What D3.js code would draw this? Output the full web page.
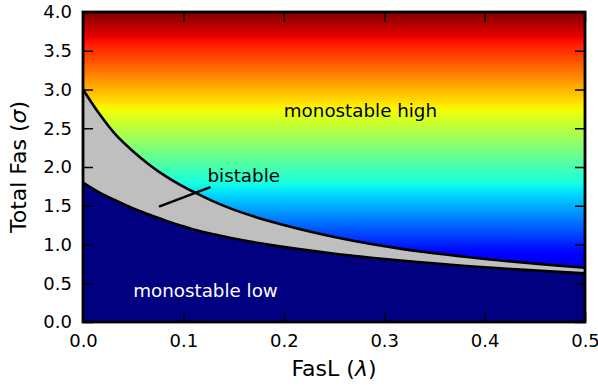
<!DOCTYPE html>
<html>
<head>
<meta charset="utf-8">
<script src="https://cdn.jsdelivr.net/npm/d3@7"></script>
<style>
html,body{margin:0;padding:0;background:#fff;}
text{font-family:"DejaVu Sans",sans-serif;}
</style>
</head>
<body>
<svg id="chart" width="598" height="386"></svg>
<script>
// ---- data ----
const lambdaVals = [0, 0.0166, 0.033, 0.05, 0.066, 0.083, 0.1, 0.11, 0.131, 0.15, 0.186, 0.2527, 0.319, 0.385, 0.44, 0.5];
const upperSigma = [3.0, 2.68, 2.41, 2.20, 2.03, 1.875, 1.746, 1.68, 1.55, 1.45, 1.30, 1.09, 0.94, 0.835, 0.765, 0.70];
const lowerSigma = [1.80, 1.67, 1.565, 1.465, 1.385, 1.305, 1.235, 1.195, 1.13, 1.077, 0.995, 0.878, 0.79, 0.72, 0.672, 0.628];
const xTicks = [0.0, 0.1, 0.2, 0.3, 0.4, 0.5];
const yTicks = [0.0, 0.5, 1.0, 1.5, 2.0, 2.5, 3.0, 3.5, 4.0];
const colorDomain = [0.45, 4.0];
const bistablePointer = [[0.0757, 1.49], [0.127, 1.74]];
const labels = [
  {text: "monostable high", x: 0.2, y: 2.65, color: "#000"},
  {text: "monostable low", x: 0.05, y: 0.32, color: "#fff"},
  {text: "bistable", x: 0.124, y: 1.81, color: "#000"}
];

// jet colormap (matplotlib segment data)
const jetSeg = {
  r: [[0,0],[0.35,0],[0.66,1],[0.89,1],[1,0.5]],
  g: [[0,0],[0.125,0],[0.375,1],[0.64,1],[0.91,0],[1,0]],
  b: [[0,0.5],[0.11,1],[0.34,1],[0.65,0],[1,0]]
};
function seg(s, v){
  v = Math.max(0, Math.min(1, v));
  for (let i = 1; i < s.length; i++){
    if (v <= s[i][0]){
      const t = (v - s[i-1][0]) / (s[i][0] - s[i-1][0]);
      return s[i-1][1] + t * (s[i][1] - s[i-1][1]);
    }
  }
  return s[s.length-1][1];
}
function jet(v){
  return d3.rgb(255*seg(jetSeg.r,v), 255*seg(jetSeg.g,v), 255*seg(jetSeg.b,v)).formatHex();
}

const W = 598, H = 386;
const m = {left: 83, top: 12, right: 13, bottom: 64};
const iw = W - m.left - m.right, ih = H - m.top - m.bottom;

const svg = d3.select("#chart");
const g = svg.append("g").attr("transform", `translate(${m.left},${m.top})`);

const x = d3.scaleLinear().domain([0, 0.5]).range([0, iw]);
const y = d3.scaleLinear().domain([0, 4]).range([ih, 0]);
const color = d3.scaleSequential(jet).domain(colorDomain);

// gradient
const defs = svg.append("defs");
const grad = defs.append("linearGradient").attr("id", "jetgrad")
  .attr("gradientUnits", "userSpaceOnUse")
  .attr("x1", 0).attr("x2", 0).attr("y1", y(colorDomain[0])).attr("y2", y(colorDomain[1]));
d3.range(0, 1.0001, 0.01).forEach(t => {
  const s = colorDomain[0] + t * (colorDomain[1] - colorDomain[0]);
  grad.append("stop").attr("offset", t).attr("stop-color", color(s));
});
defs.append("clipPath").attr("id", "clip").append("rect").attr("width", iw).attr("height", ih);

const plot = g.append("g").attr("clip-path", "url(#clip)");
plot.append("rect").attr("width", iw).attr("height", ih).attr("fill", "url(#jetgrad)");

const pts = lambdaVals.map((l, i) => ({l, up: upperSigma[i], lo: lowerSigma[i]}));
const curve = d3.curveCatmullRom.alpha(0.5);
const areaUp = d3.area().x(d => x(d.l)).y0(y(0)).y1(d => y(d.up)).curve(curve);
const areaLo = d3.area().x(d => x(d.l)).y0(y(0)).y1(d => y(d.lo)).curve(curve);
plot.append("path").datum(pts).attr("d", areaUp).attr("fill", "#bfbfbf");
plot.append("path").datum(pts).attr("d", areaLo).attr("fill", "#000080");

const lineUp = d3.line().x(d => x(d.l)).y(d => y(d.up)).curve(curve);
const lineLo = d3.line().x(d => x(d.l)).y(d => y(d.lo)).curve(curve);
plot.append("path").datum(pts).attr("d", lineUp).attr("fill", "none").attr("stroke", "#000").attr("stroke-width", 2.6);
plot.append("path").datum(pts).attr("d", lineLo).attr("fill", "none").attr("stroke", "#000").attr("stroke-width", 2.6);

// annotation
g.append("line")
  .attr("x1", x(bistablePointer[0][0])).attr("y1", y(bistablePointer[0][1]))
  .attr("x2", x(bistablePointer[1][0])).attr("y2", y(bistablePointer[1][1]))
  .attr("stroke", "#000").attr("stroke-width", 2.4);
g.selectAll("text.lab").data(labels).join("text").attr("class", "lab")
  .attr("x", d => x(d.x)).attr("y", d => y(d.y))
  .attr("fill", d => d.color).attr("font-size", 18.3).text(d => d.text);

// axes
const fmt = d3.format(".1f");
const tl = 10;
const xb = g.append("g").attr("transform", `translate(0,${ih})`)
  .call(d3.axisBottom(x).tickValues(xTicks).tickFormat(fmt).tickSize(-tl).tickPadding(12));
const xt = g.append("g").call(d3.axisTop(x).tickValues(xTicks).tickFormat("").tickSize(-tl));
const yl = g.append("g").call(d3.axisLeft(y).tickValues(yTicks).tickFormat(fmt).tickSize(-tl).tickPadding(11));
const yr = g.append("g").attr("transform", `translate(${iw},0)`)
  .call(d3.axisRight(y).tickValues(yTicks).tickFormat("").tickSize(-tl));
[xb, xt, yl, yr].forEach(a => {
  a.select(".domain").remove();
  a.selectAll(".tick line").attr("stroke", "#000").attr("stroke-width", 1.5);
  a.selectAll(".tick text").attr("fill", "#000").attr("font-size", 18).attr("font-family", "DejaVu Sans");
});

// frame
g.append("rect").attr("width", iw).attr("height", ih).attr("fill", "none")
  .attr("stroke", "#000").attr("stroke-width", 2.8);

// axis labels
const xlab = svg.append("text").attr("x", m.left + iw/2).attr("y", 376)
  .attr("text-anchor", "middle").attr("font-size", 22);
xlab.append("tspan").text("FasL (");
xlab.append("tspan").attr("font-style", "italic").text("λ");
xlab.append("tspan").text(")");

const ylab = svg.append("text").attr("transform", `translate(26,${m.top + ih/2}) rotate(-90)`)
  .attr("text-anchor", "middle").attr("font-size", 22);
ylab.append("tspan").text("Total Fas (");
ylab.append("tspan").attr("font-style", "italic").text("σ");
ylab.append("tspan").text(")");
</script>
</body>
</html>
